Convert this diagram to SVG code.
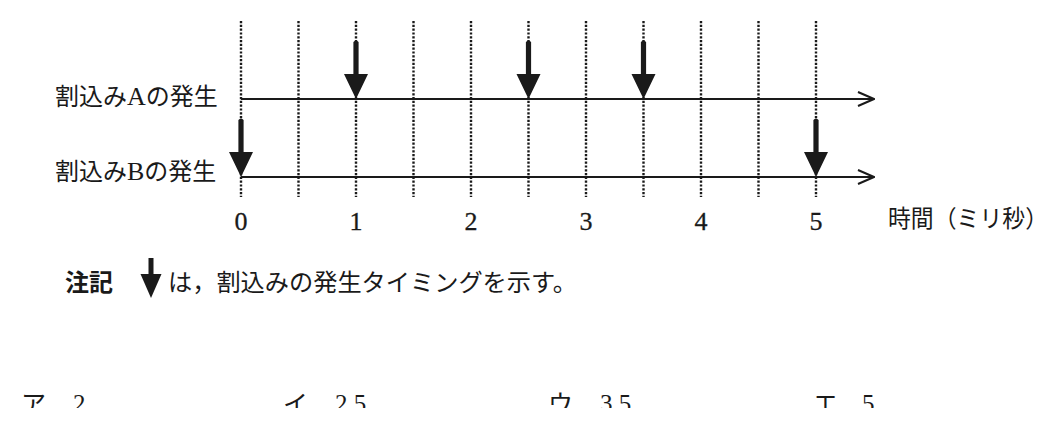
<svg xmlns="http://www.w3.org/2000/svg" width="1064" height="428" viewBox="0 0 1064 428">
  <style>
    .bg { fill: #ffffff; }
    .grid { stroke: #1a1a1a; stroke-width: 2.4; stroke-dasharray: 2.2 1.6; fill: none; }
    .time { stroke: #1a1a1a; stroke-width: 2; fill: none; }
    .lbl { font-family: "Liberation Serif", "Noto Sans CJK JP", serif; font-size: 24px; fill: #1a1a1a; }
    .lat { font-size: 26px; }
    .jp { font-family: "Noto Sans CJK JP", sans-serif; font-size: 24px; fill: #1a1a1a; }
    .num { font-family: "Liberation Serif", "Noto Sans CJK JP", serif; font-size: 26px; fill: #1a1a1a; text-anchor: middle; stroke: #1a1a1a; stroke-width: 0.3; }
    .opt { font-family: "Liberation Serif", "Noto Sans CJK JP", serif; font-size: 25px; fill: #1a1a1a; }
    .bold { font-weight: bold; }
    .arr { fill: #1a1a1a; }
  </style>
  <defs>
    <marker id="open" viewBox="0 0 18 16" refX="17" refY="8" markerWidth="18" markerHeight="16" orient="auto" markerUnits="userSpaceOnUse">
      <path d="M1,1 L17,8 L1,15" fill="none" stroke="#1a1a1a" stroke-width="2"/>
    </marker>
    <path id="intArrow" class="arr" d="M-2.6,-57 Q0,-60 2.6,-57 L2.6,-25 L12,-25 L0,0 L-12,-25 L-2.6,-25 Z"/>
    <clipPath id="bottomClip"><rect x="0" y="0" width="1064" height="408"/></clipPath>
  </defs>
  <rect class="bg" x="0" y="0" width="1064" height="428"/>

  <g id="grid">
    <line class="grid" x1="241" y1="21" x2="241" y2="197"/>
    <line class="grid" x1="298.5" y1="21" x2="298.5" y2="197"/>
    <line class="grid" x1="356" y1="21" x2="356" y2="197"/>
    <line class="grid" x1="413.5" y1="21" x2="413.5" y2="197"/>
    <line class="grid" x1="471" y1="21" x2="471" y2="197"/>
    <line class="grid" x1="528.5" y1="21" x2="528.5" y2="197"/>
    <line class="grid" x1="586" y1="21" x2="586" y2="197"/>
    <line class="grid" x1="643.5" y1="21" x2="643.5" y2="197"/>
    <line class="grid" x1="701" y1="21" x2="701" y2="197"/>
    <line class="grid" x1="758.5" y1="21" x2="758.5" y2="197"/>
    <line class="grid" x1="816" y1="21" x2="816" y2="197"/>
  </g>

  <g id="connectors">
    <line id="timeline-A" class="time" x1="241" y1="99" x2="874" y2="99" marker-end="url(#open)"/>
    <line id="timeline-B" class="time" x1="241" y1="177" x2="874" y2="177" marker-end="url(#open)"/>
  </g>

  <g id="label-A"><text class="lbl" x="55" y="105">割込み<tspan class="lat">A</tspan>の発生</text></g>
  <g id="label-B"><text class="lbl" x="55" y="180">割込み<tspan class="lat">B</tspan>の発生</text></g>

  <g id="arrow-A-1"><use href="#intArrow" x="356" y="99"/></g>
  <g id="arrow-A-2_5"><use href="#intArrow" x="528.5" y="99"/></g>
  <g id="arrow-A-3_5"><use href="#intArrow" x="643.5" y="99"/></g>
  <g id="arrow-B-0"><use href="#intArrow" x="241" y="177"/></g>
  <g id="arrow-B-5"><use href="#intArrow" x="816" y="177"/></g>

  <g id="axis-labels">
    <text class="num" x="241" y="230">0</text>
    <text class="num" x="356" y="230">1</text>
    <text class="num" x="471" y="230">2</text>
    <text class="num" x="586" y="230">3</text>
    <text class="num" x="701" y="230">4</text>
    <text class="num" x="816" y="230">5</text>
    <text class="jp" x="888" y="227" textLength="160" lengthAdjust="spacingAndGlyphs">時間（ミリ秒）</text>
  </g>

  <g id="note">
    <text class="jp bold" x="65" y="291">注記</text>
    <path class="arr" d="M148.5,258 L153.5,258 L153.5,274 L161.5,274 L151,298 L140.5,274 L148.5,274 Z"/>
    <text class="jp" x="168" y="291" textLength="409" lengthAdjust="spacingAndGlyphs">は，割込みの発生タイミングを示す。</text>
  </g>

  <g id="choices" clip-path="url(#bottomClip)">
    <text class="jp" x="21" y="413" style="font-size:25px">ア</text>
    <text class="opt" x="73" y="412">2</text>
    <text class="jp" x="283" y="413" style="font-size:25px">イ</text>
    <text class="opt" x="335" y="412">2.5</text>
    <text class="jp" x="548" y="413" style="font-size:25px">ウ</text>
    <text class="opt" x="600" y="412">3.5</text>
    <text class="jp" x="813" y="413" style="font-size:25px">エ</text>
    <text class="opt" x="862" y="412">5</text>
  </g>
</svg>
